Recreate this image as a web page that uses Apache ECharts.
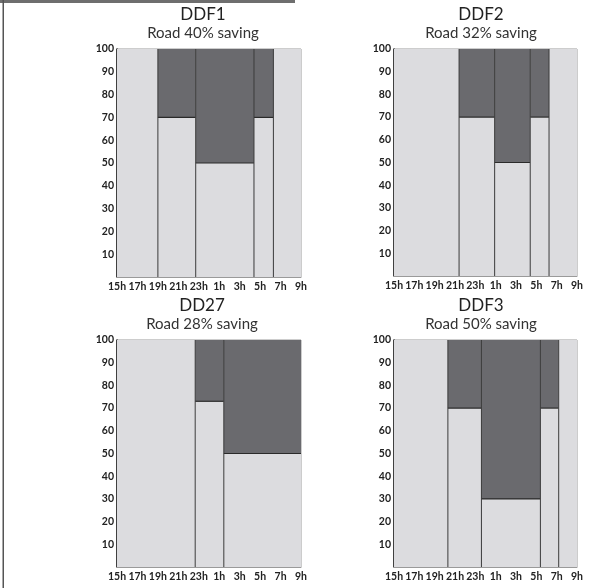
<!DOCTYPE html>
<html>
<head>
<meta charset="utf-8">
<script src="https://cdn.jsdelivr.net/npm/echarts@6/dist/echarts.min.js"></script>
<style>
html,body{margin:0;padding:0;background:#fff;}
#chart{width:593px;height:588px;}
</style>
</head>
<body>
<div id="chart"></div>
<script>
// x values are hours after 15h (0 = 15h, 18 = 9h)
const hourLabels = ['15h','17h','19h','21h','23h','1h','3h','5h','7h','9h'];
const panelNames = ['DDF1','DDF2','DD27','DDF3'];
const panelSubs = ['Road 40% saving','Road 32% saving','Road 28% saving','Road 50% saving'];

const ddf1Breaks = [0, 4.0, 7.7, 13.4, 15.3, 18];
const ddf1Levels = [100, 70, 50, 70, 100];
const ddf2Breaks = [0, 6.4, 9.9, 13.4, 15.25, 18];
const ddf2Levels = [100, 70, 50, 70, 100];
const dd27Breaks = [0, 7.65, 10.45, 18];
const dd27Levels = [100, 73, 50];
const ddf3Breaks = [0, 5.3, 8.6, 14.4, 16.2, 18];
const ddf3Levels = [100, 70, 30, 70, 100];

const panels = [
  {breaks: ddf1Breaks, levels: ddf1Levels},
  {breaks: ddf2Breaks, levels: ddf2Levels},
  {breaks: dd27Breaks, levels: dd27Levels},
  {breaks: ddf3Breaks, levels: ddf3Levels}
];

const gridPos = [
  {left: 117, top: 49, width: 184, height: 228},
  {left: 394, top: 49, width: 183, height: 227},
  {left: 117, top: 340, width: 184, height: 227},
  {left: 394, top: 340, width: 183, height: 227}
];
const titlePos = [
  {left: 203, top: 5},
  {left: 481, top: 5},
  {left: 202, top: 296},
  {left: 481, top: 296}
];

const LIGHT = '#dcdcdf';
const DARK = '#6a6a6e';
const FONT = 'Lato';

function renderSeg(params, api) {
  const x0 = api.value(0), x1 = api.value(1), lv = api.value(2);
  const pBL = api.coord([x0, 0]);
  const pTR = api.coord([x1, 100]);
  const pLv = api.coord([x1, lv]);
  const children = [];
  // light part (0..level)
  children.push({type: 'rect', shape: {x: pBL[0], y: pLv[1], width: pTR[0] - pBL[0], height: pBL[1] - pLv[1]},
    style: {fill: LIGHT}});
  if (lv < 100) {
    children.push({type: 'rect', shape: {x: pBL[0], y: pTR[1], width: pTR[0] - pBL[0], height: pLv[1] - pTR[1]},
      style: {fill: DARK}});
    children.push({type: 'line', shape: {x1: pBL[0], y1: pLv[1], x2: pTR[0], y2: pLv[1]},
      style: {stroke: '#2a2a2a', lineWidth: 1.2}});
  }
  if (x0 > 0) {
    children.push({type: 'line', shape: {x1: pBL[0], y1: pBL[1], x2: pBL[0], y2: pTR[1]},
      style: {stroke: '#3a3a3a', lineWidth: 1}});
  }
  return {type: 'group', children: children};
}

const option = {
  animation: false,
  backgroundColor: '#fff',
  title: panels.map((p, i) => ({
    text: panelNames[i],
    subtext: panelSubs[i],
    left: titlePos[i].left,
    top: titlePos[i].top,
    padding: 0,
    itemGap: 1,
    textAlign: 'center',
    textStyle: {fontFamily: FONT, fontSize: 17, fontWeight: 'normal', color: '#222', lineHeight: 19},
    subtextStyle: {fontFamily: FONT, fontSize: 15, color: '#333', lineHeight: 17}
  })),
  grid: gridPos.map(g => Object.assign({show: true, borderColor: '#9a9a9a', borderWidth: 1, backgroundColor: 'transparent'}, g)),
  xAxis: panels.map((p, i) => ({
    type: 'value', gridIndex: i, min: 0, max: 18, interval: 2,
    axisLine: {show: true, onZero: false, lineStyle: {color: '#9a9a9a', width: 1}},
    axisTick: {show: false},
    splitLine: {show: false},
    axisLabel: {
      margin: 4, fontFamily: FONT, fontWeight: 'bold', fontSize: 10.5, color: '#222',
      formatter: v => hourLabels[Math.round(v / 2)]
    }
  })),
  yAxis: panels.map((p, i) => ({
    type: 'value', gridIndex: i, min: 0, max: 100, interval: 10,
    axisLine: {show: true, lineStyle: {color: '#111', width: 1.5}},
    axisTick: {show: false},
    splitLine: {show: false},
    axisLabel: {
      margin: 3, fontFamily: FONT, fontWeight: 'bold', fontSize: 10.5, color: '#222',
      formatter: v => (v === 0 ? '' : String(v))
    }
  })),
  series: panels.map((p, i) => ({
    type: 'custom', xAxisIndex: i, yAxisIndex: i,
    renderItem: renderSeg,
    encode: {x: [0, 1], y: 2},
    z: 1,
    data: p.levels.map((lv, k) => [p.breaks[k], p.breaks[k + 1], lv])
  })),
  graphic: [
    {type: 'rect', shape: {x: 0, y: 0, width: 295, height: 3}, style: {fill: '#6e6e6e'}, z: 100},
    {type: 'rect', shape: {x: 2.5, y: 0, width: 1.5, height: 588}, style: {fill: '#555'}, z: 100}
  ]
};

const chart = echarts.init(document.getElementById('chart'), null, {renderer: 'canvas'});
chart.setOption(option);
</script>
</body>
</html>
